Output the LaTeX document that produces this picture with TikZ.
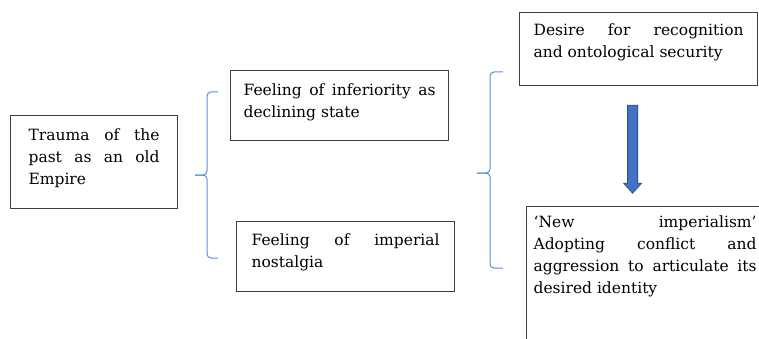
\documentclass[tikz,border=0pt]{standalone}
\usepackage{fontspec}
\setmainfont{DejaVu Serif}
\usetikzlibrary{calc}

\definecolor{boxline}{HTML}{3F3F3F}
\definecolor{braceblue}{HTML}{5B8FD6}
\definecolor{arrowfill}{HTML}{4472C4}
\definecolor{arrowline}{HTML}{2F528F}

\tikzset{
  box/.style={draw=boxline, line width=1.2pt, anchor=north west, inner ysep=0pt,
    align=justify, font=\fontsize{15.5}{22}\selectfont},
  brace/.style={draw=braceblue, line width=1pt, rounded corners=4pt},
  blockarrow/.style={fill=arrowfill, draw=arrowline, line width=0.8pt}
}

\begin{document}
\begin{tikzpicture}[x=1pt,y=-1pt]
    \useasboundingbox (0,0) rectangle (759,339);
    \clip (0,0) rectangle (759,339);

    \node [box, inner xsep=18pt, text width=131pt, text height=25pt, text depth=68pt]
      (trauma) at (10,115) {Trauma of the\linebreak past as an old\linebreak Empire};

    \node [box, inner xsep=13pt, text width=192pt, text height=25pt, text depth=45pt]
      (inferiority) at (230,70) {Feeling of inferiority as\linebreak declining state};
    \node [box, inner xsep=15pt, text width=188pt, text height=24pt, text depth=46pt]
      (nostalgia) at (236,221) {Feeling of imperial\linebreak nostalgia};

    \node [box, inner xsep=14pt, text width=210pt, text height=23pt, text depth=50pt]
      (desire) at (519,12) {Desire for recognition\linebreak and ontological security};
    \node [box, inner xsep=7pt, text width=223pt, text height=21pt, text depth=150pt]
      (newimp) at (526,206) {‘New imperialism’\linebreak Adopting conflict and\linebreak aggression to articulate its\linebreak desired identity};

    \draw [brace] (218,92) -- (207,92) -- (207,175) -- (195,175);
    \draw [brace] (195,175) -- (207,175) -- (207,258) -- (218,258);

    \draw [brace] (503,72) -- (490,72) -- (490,173) -- (477,173);
    \draw [brace] (477,173) -- (490,173) -- (490,268) -- (503,268);

    \coordinate (arrowtop) at ([xshift=-6pt,yshift=-19pt]desire.south);
    \filldraw [blockarrow] (arrowtop) ++(-5,0) -- ++(10,0) -- ++(0,78) -- ++(4,0)
      -- ++(-9,10) -- ++(-9,-10) -- ++(4,0) -- cycle;
  \end{tikzpicture}
\end{document}
